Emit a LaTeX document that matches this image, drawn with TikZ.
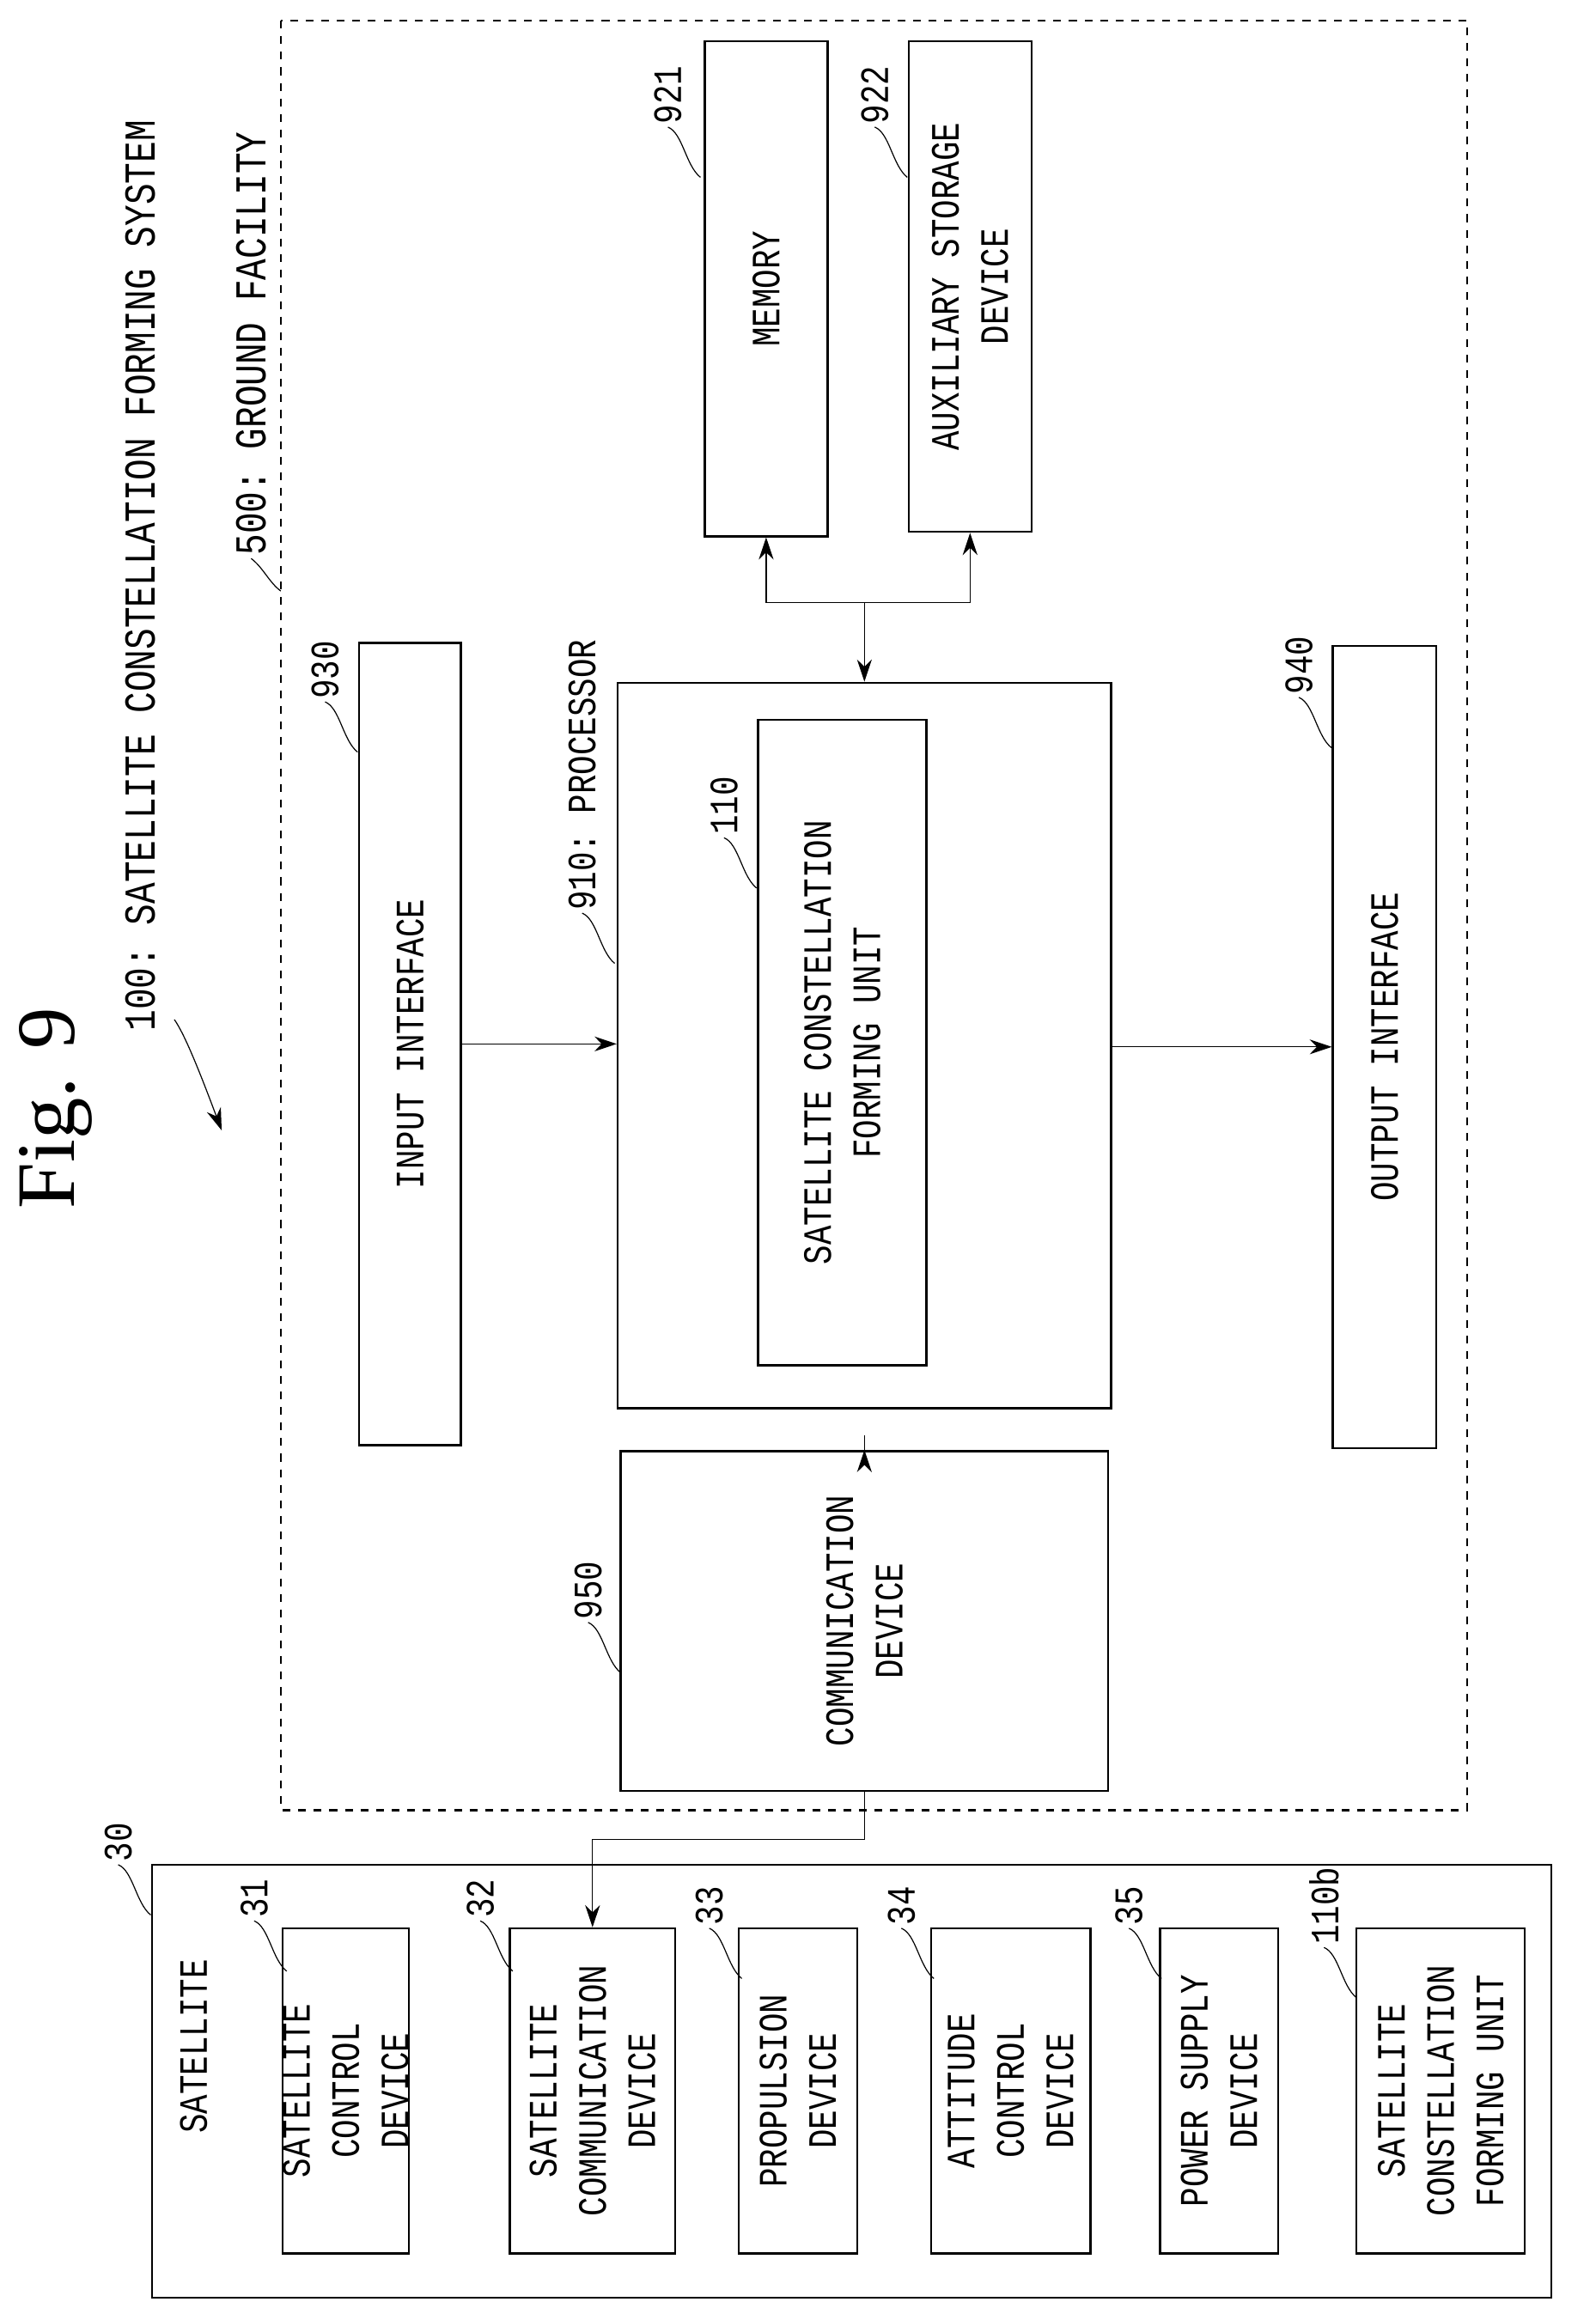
\documentclass[tikz,border=0pt]{standalone}
\usepackage{fontspec}
\usetikzlibrary{arrows.meta}
\setmainfont{Liberation Serif}
\setmonofont{Liberation Mono}[FakeStretch=0.8]
\tikzset{
  box/.style={draw, thick, rotate=90, align=center, inner sep=0pt, font=\ttfamily\fontsize{15.5}{19}\selectfont},
  num/.style={rotate=90, anchor=west, inner sep=1pt, font=\ttfamily\fontsize{15.5}{19}\selectfont},
  lead/.style={thin},
  link/.style={thin, -{Stealth[length=3mm,width=2mm]}},
}
\newcommand{\numtag}[4]{%
  \node[num] (#1) at (#2,#3) {#4};
  \coordinate (#1-e) at (#2+22,#3+34);
  \draw[lead] (#1.west) .. controls +(10,4) and +(-10,-8) .. (#1-e);}
\begin{document}
\begin{tikzpicture}[x=0.02cm, y=-0.02cm]
\useasboundingbox (0,0) rectangle (1080,1562);
% title
\node[rotate=90, font=\fontsize{32}{36}\selectfont] (fig) at (38,750) {Fig. 9};
\node[num, font=\ttfamily\fontsize{17}{20}\selectfont] (sys) at (95,700) {100: SATELLITE CONSTELLATION FORMING SYSTEM};
\coordinate (sysend) at (150,765);
\draw[link] (118,690) .. controls (125,700) and (135,725) .. (sysend);
% ground facility
\draw[thick, dashed] (190,14) rectangle (993,1225);
\node[num, font=\ttfamily\fontsize{17}{20}\selectfont] (gf) at (170,378) {500: GROUND FACILITY};
\coordinate (gf-e) at (190,400);
\draw[lead] (gf.west) .. controls +(8,6) and +(-8,-6) .. (gf-e);
\node[box, minimum width=6.7cm, minimum height=1.66cm] (mem) at (518.5,195.5) {MEMORY};
\node[box, minimum width=6.64cm, minimum height=1.66cm] (aux) at (656.5,194) {AUXILIARY STORAGE\\DEVICE};
\node[box, minimum width=10.86cm, minimum height=1.38cm] (in) at (277.5,706.5) {INPUT INTERFACE};
\node[box, minimum width=9.82cm, minimum height=6.68cm] (proc) at (585,707.5) {};
\node[box, minimum width=8.74cm, minimum height=2.28cm] (scfu) at (570,705.5) {SATELLITE CONSTELLATION\\FORMING UNIT};
\node[box, minimum width=10.86cm, minimum height=1.4cm] (out) at (937,708.5) {OUTPUT INTERFACE};
\node[box, minimum width=4.6cm, minimum height=6.6cm] (comm) at (585,1097) {COMMUNICATION\\DEVICE};
\numtag{t921}{452}{86}{921}
\numtag{t922}{592}{86}{922}
\numtag{t930}{220}{475}{930}
\numtag{t910}{394}{618}{910: PROCESSOR}
\numtag{t110}{490}{567}{110}
\numtag{t940}{879}{472}{940}
\numtag{t950}{398}{1098}{950}
% connectors
\coordinate (bus) at (585,408);
\coordinate (busm) at (518.5,408);
\coordinate (busa) at (656.5,408);
\draw[link] (in) -- (in -| proc.north);
\draw[link] (proc.south |- out) -- (out);
\draw[link] (comm) -- (proc.west |- comm.east);
\draw[link] (bus) -- (proc.east);
\draw[link] (busm) -- (mem.west);
\draw[link] (busa) -- (aux.west);
\draw[thin] (busm) -- (busa);
% satellite
\draw[thick] (103,1262) rectangle (1050,1555);
\node[box, draw=none] (satl) at (131,1385) {SATELLITE};
\numtag{t30}{80}{1262}{30}
\node[box, minimum width=4.4cm, minimum height=1.64cm] (s31) at (234,1415) {SATELLITE\\CONTROL\\DEVICE};
\node[box, minimum width=4.4cm, minimum height=2.24cm] (s32) at (401,1415) {SATELLITE\\COMMUNICATION\\DEVICE};
\node[box, minimum width=4.4cm, minimum height=1.6cm] (s33) at (540,1415) {PROPULSION\\DEVICE};
\node[box, minimum width=4.4cm, minimum height=2.16cm] (s34) at (684,1415) {ATTITUDE\\CONTROL\\DEVICE};
\node[box, minimum width=4.4cm, minimum height=1.6cm] (s35) at (825,1415) {POWER SUPPLY\\DEVICE};
\node[box, minimum width=4.4cm, minimum height=2.28cm] (s110b) at (975,1415) {SATELLITE\\CONSTELLATION\\FORMING UNIT};
\numtag{t31}{172}{1300}{31}
\numtag{t32}{325}{1300}{32}
\numtag{t33}{480}{1305}{33}
\numtag{t34}{610}{1305}{34}
\numtag{t35}{764}{1305}{35}
\numtag{t110b}{896}{1318}{110b}
\coordinate (c1) at (585,1245);
\coordinate (c2) at (401,1245);
\draw[link] (comm.west) -- (c1) -- (c2) -- (s32.east);
\end{tikzpicture}
\end{document}
